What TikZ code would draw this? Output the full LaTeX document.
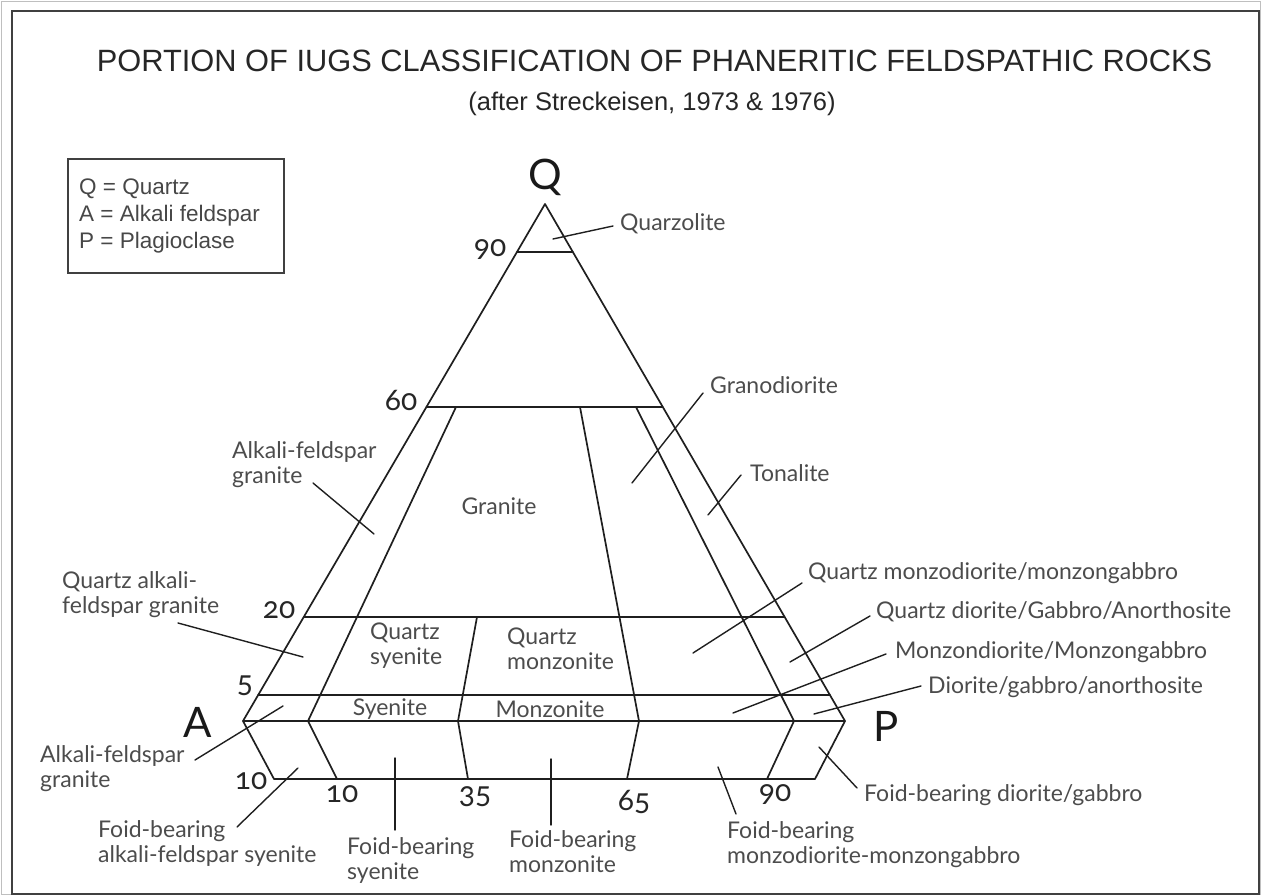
\documentclass[tikz,border=0pt]{standalone}
\usepackage{fontspec}
\setmainfont{Liberation Sans}
\newfontfamily\labfont[Numbers=OldStyle]{Lato}
\usetikzlibrary{calc}
\begin{document}
\begin{tikzpicture}[x=1pt,y=-1pt,
  ln/.style={line width=1.7pt, draw=black!88, line join=round, line cap=round},
  leader/.style={line width=1.4pt, draw=black!88, line cap=round},
  lbl/.style={font=\labfont\fontsize{23}{25}\selectfont, text=black!70, inner sep=0pt, align=left, anchor=west},
  clbl/.style={font=\labfont\fontsize{23}{25}\selectfont, text=black!70, inner sep=0pt, align=center},
  num/.style={font=\labfont\fontsize{30}{32}\selectfont, text=black!85, inner sep=0pt},
  vtx/.style={font=\labfont\fontsize{42}{46}\selectfont, text=black!90, inner sep=0pt},
  frame/.style={line width=1.6pt, draw=black!75},
  legendbox/.style={line width=1.4pt, draw=black!75}
]
\useasboundingbox (0,0) rectangle (1262,896);
% frame
\draw[line width=0.6pt, draw=black!25] (1.5,1.5) rectangle (1260.5,894.5);
\draw[frame] (12,11) rectangle (1259,894);
% title
\node[font=\fontsize{30.8}{36}\selectfont, text=black!85, inner sep=0pt] (title) at (654.5,61) {PORTION OF IUGS CLASSIFICATION OF PHANERITIC FELDSPATHIC ROCKS};
\node[font=\fontsize{25.5}{30}\selectfont, text=black!85, inner sep=0pt] (subtitle) at (652,104) {(after Streckeisen, 1973 \& 1976)};
% legend
\draw[legendbox] (68,159) rectangle (284,273);
\node[font=\fontsize{22.5}{27}\selectfont, text=black!72, inner sep=0pt, align=left, anchor=west] (legend) at (79,216) {Q = Quartz\\A = Alkali feldspar\\P = Plagioclase};
% main points
\coordinate (Q) at (545,204);
\coordinate (A) at (243,721);
\coordinate (P) at (845,721);
\coordinate (F1) at (274,779);
\coordinate (F2) at (815,779);
% horizontal levels
\coordinate (h90a) at ($(Q)!0.0928!(A)$);
\coordinate (h90b) at ($(Q)!0.0928!(P)$);
\coordinate (h60a) at ($(Q)!0.3926!(A)$);
\coordinate (h60b) at ($(Q)!0.3926!(P)$);
\coordinate (h20a) at ($(Q)!0.7988!(A)$);
\coordinate (h20b) at ($(Q)!0.7988!(P)$);
\coordinate (h5a) at ($(Q)!0.9497!(A)$);
\coordinate (h5b) at ($(Q)!0.9497!(P)$);
% dividers
\coordinate (d10t) at (456,407);
\coordinate (d10m) at (308,721);
\coordinate (d10b) at (337,779);
\coordinate (d35t) at (477,617);
\coordinate (d35m) at (458,721);
\coordinate (d35b) at (468,779);
\coordinate (d65t) at (580,407);
\coordinate (d65m) at (639,721);
\coordinate (d65b) at (627,779);
\coordinate (d90t) at (636,407);
\coordinate (d90m) at (794,721);
\coordinate (d90b) at (767,779);
% outline
\draw[ln] (A) -- (Q) -- (P) -- (A);
\draw[ln] (A) -- (F1) -- (F2) -- (P);
\draw[ln] (h90a) -- (h90b);
\draw[ln] (h60a) -- (h60b);
\draw[ln] (h20a) -- (h20b);
\draw[ln] (h5a) -- (h5b);
\draw[ln] (d10t) -- (d10m) -- (d10b);
\draw[ln] (d35t) -- (d35m) -- (d35b);
\draw[ln] (d65t) -- (d65m) -- (d65b);
\draw[ln] (d90t) -- (d90m) -- (d90b);
% vertex labels
\node[vtx] (lQ) at (545,177) {Q};
\node[vtx] (lA) at (198,722) {A};
\node[vtx] (lP) at (886,726) {P};
% numbers
\node[num] (n90) at (490,250) {90};
\node[num] (n60) at (401,400) {60};
\node[num] (n20) at (279,610) {20};
\node[num] (n5) at (245,686) {5};
\node[num] (n10l) at (251,781) {10};
\node[num] (n10) at (342,794) {10};
\node[num] (n35) at (475,797) {35};
\node[num] (n65) at (634,802) {65};
\node[num] (n90b) at (775,795) {90};
% labels
\node[lbl] (quarz) at (620,224) {Quarzolite};
\node[lbl] (grano) at (710,385) {Granodiorite};
\node[lbl] (tonal) at (750,473) {Tonalite};
\node[lbl] (afgu) at (232,465) {Alkali-feldspar\\granite};
\node[clbl] (granite) at (499,506) {Granite};
\node[lbl] (qsy) at (370,646) {Quartz\\syenite};
\node[lbl] (qmz) at (507,649) {Quartz\\monzonite};
\node[clbl] (sy) at (390,709) {Syenite};
\node[clbl] (mz) at (550,709) {Monzonite};
\node[lbl] (qafg) at (62,595) {Quartz alkali-\\feldspar granite};
\node[lbl] (afgl) at (40,769) {Alkali-feldspar\\granite};
\node[lbl] (fafs) at (98,843.5) {Foid-bearing\\alkali-feldspar syenite};
\node[lbl] (fsy) at (347,860.5) {Foid-bearing\\syenite};
\node[lbl] (fmz) at (509,851.5) {Foid-bearing\\monzonite};
\node[lbl] (fmm) at (727,845) {Foid-bearing\\monzodiorite-monzongabbro};
\node[lbl] (fdg) at (864,795) {Foid-bearing diorite/gabbro};
\node[lbl] (qmm) at (808,573) {Quartz monzodiorite/monzongabbro};
\node[lbl] (qdga) at (876,612) {Quartz diorite/Gabbro/Anorthosite};
\node[lbl] (mm) at (895,652) {Monzondiorite/Monzongabbro};
\node[lbl] (dga) at (928,687) {Diorite/gabbro/anorthosite};
% leader coordinates
\coordinate (quarzS) at (613,226); \coordinate (quarzE) at (553,239);
\coordinate (granoS) at (703,393); \coordinate (granoE) at (632,483);
\coordinate (tonalS) at (741,475); \coordinate (tonalE) at (708,515);
\coordinate (afguS) at (313,483); \coordinate (afguE) at (374,534);
\coordinate (qafgS) at (178,623); \coordinate (qafgE) at (303,657);
\coordinate (afglS) at (195,760); \coordinate (afglE) at (283,706);
\coordinate (fafsS) at (237,827); \coordinate (fafsE) at (298,768);
\coordinate (fsyS) at (395,830); \coordinate (fsyE) at (395,758);
\coordinate (fmzS) at (551,825); \coordinate (fmzE) at (551,759);
\coordinate (fmmS) at (736,814); \coordinate (fmmE) at (718,767);
\coordinate (fdgS) at (857,788); \coordinate (fdgE) at (819,747);
\coordinate (qmmS) at (802,583); \coordinate (qmmE) at (693,653);
\coordinate (qdgaS) at (870,616); \coordinate (qdgaE) at (790,662);
\coordinate (mmS) at (886,654); \coordinate (mmE) at (733,713);
\coordinate (dgaS) at (921,686); \coordinate (dgaE) at (814,714);
\foreach \n in {quarz,grano,tonal,afgu,qafg,afgl,fafs,fsy,fmz,fmm,fdg,qmm,qdga,mm,dga}
  \draw[leader] (\n S) -- (\n E);
\end{tikzpicture}
\end{document}
